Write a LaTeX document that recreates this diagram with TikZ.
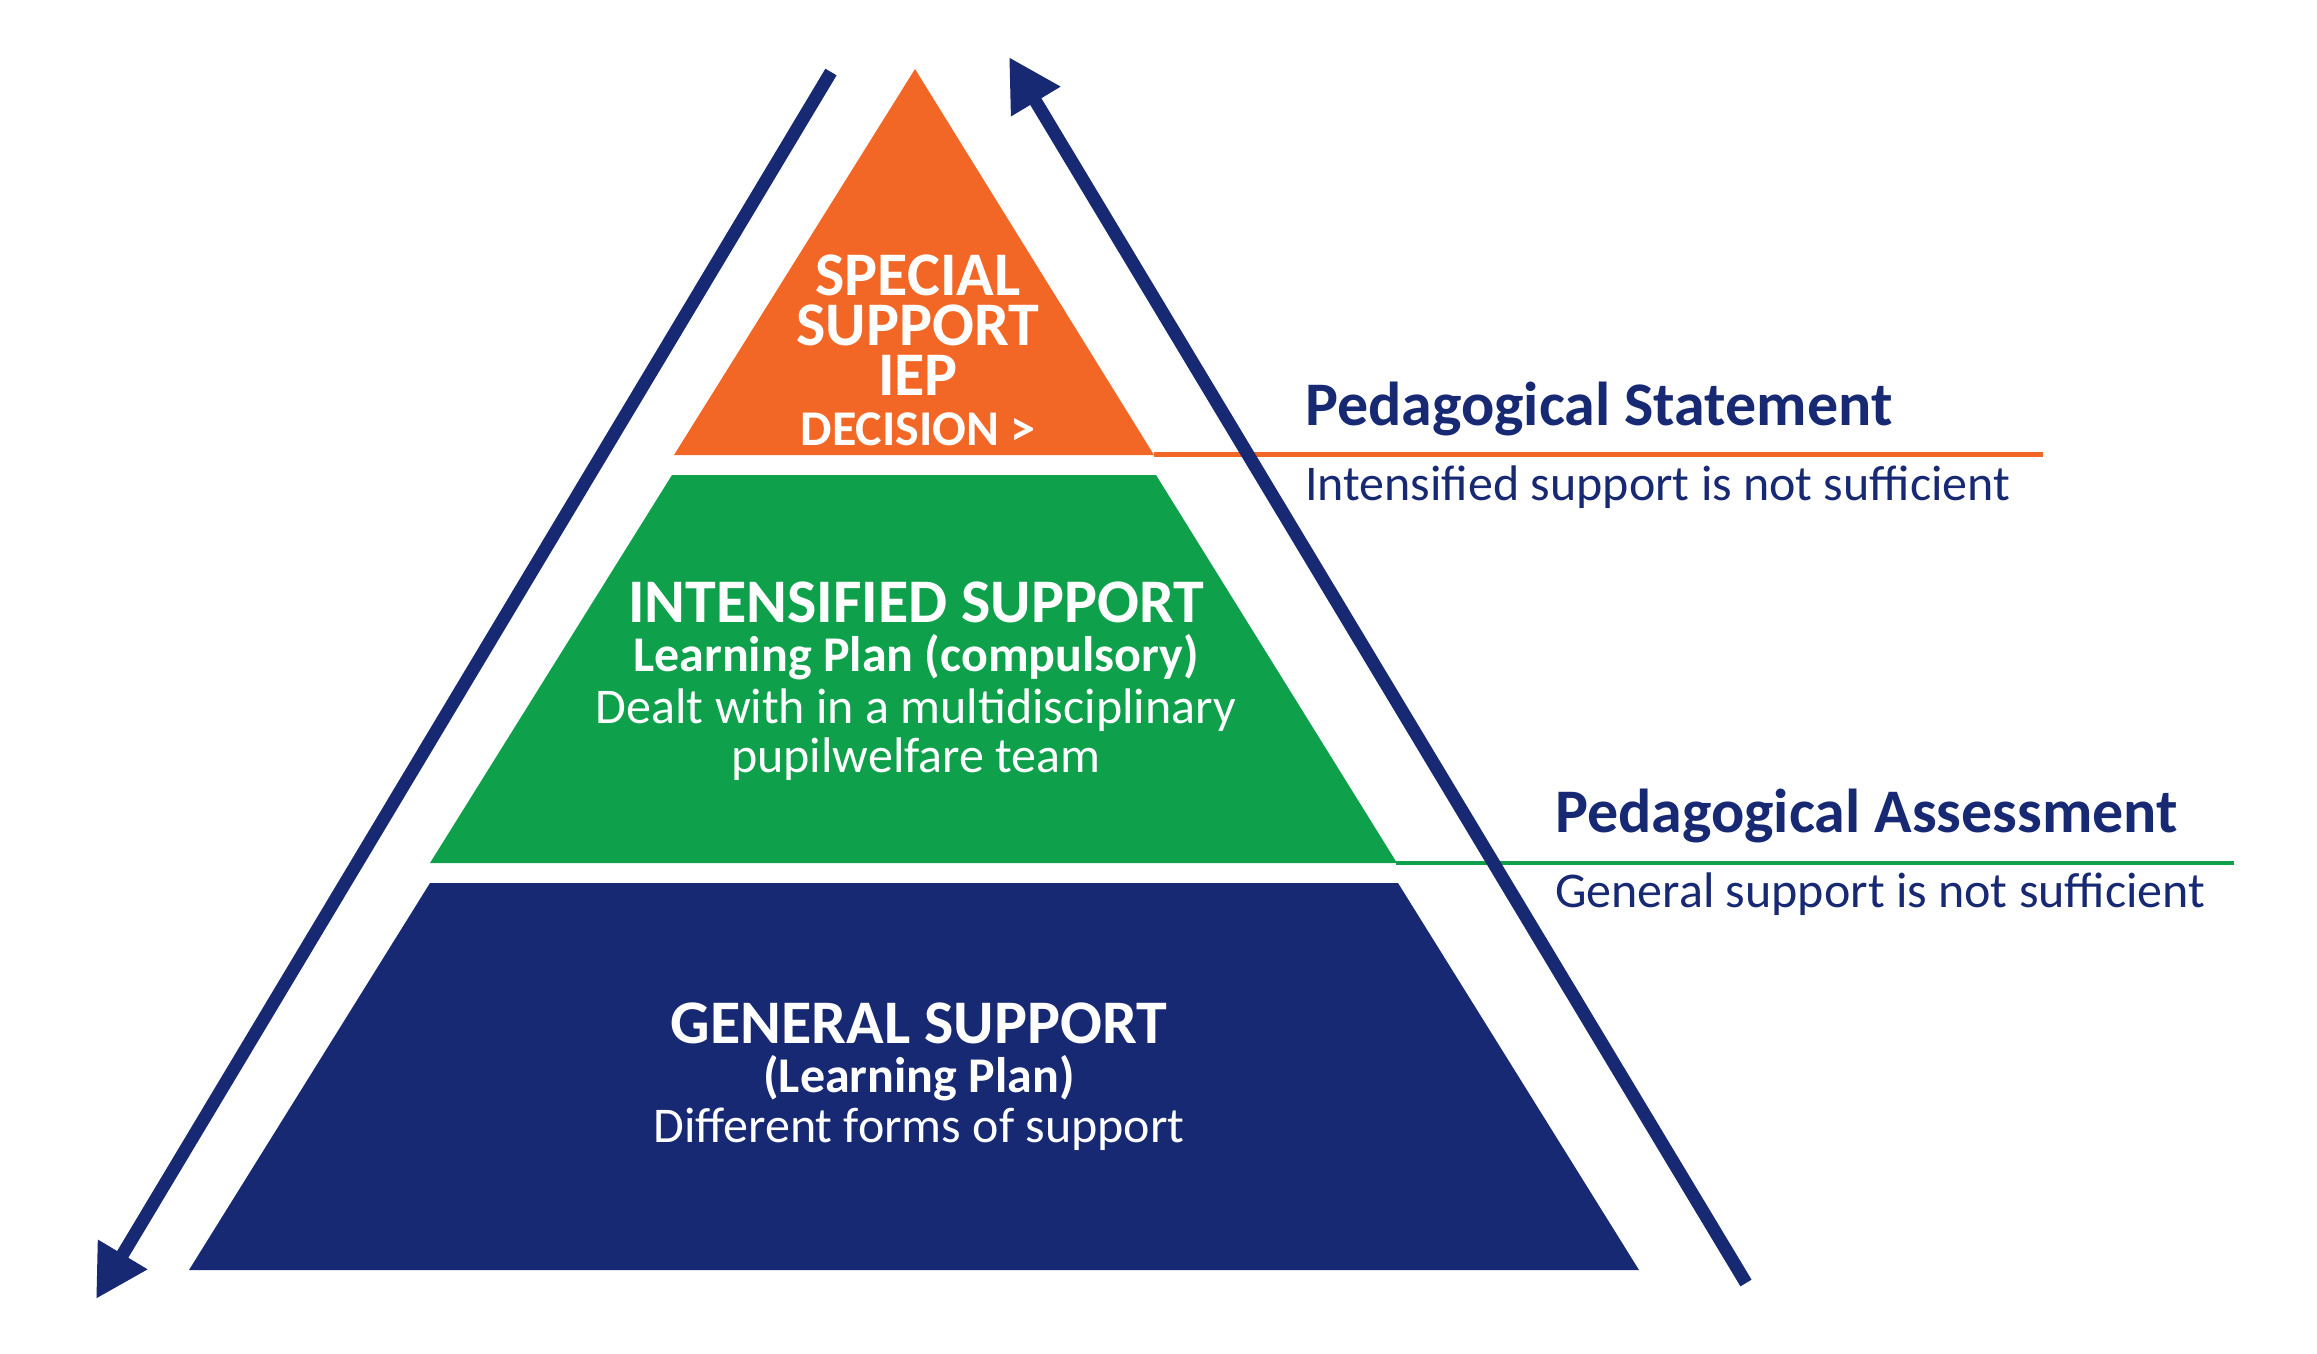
\documentclass[tikz,border=0pt]{standalone}
\usepackage{fontspec}
\setmainfont{Carlito}
\usepackage{xcolor}
\usepackage{tikz}
\usetikzlibrary{arrows.meta}
\definecolor{figN}{RGB}{24,41,115}
\definecolor{figG}{RGB}{14,160,74}
\definecolor{figO}{RGB}{242,103,37}
\tikzset{tier/.style={text=white, anchor=base, inner sep=0pt},
  hbig/.style={font=\fontsize{62}{62}\selectfont\bfseries},
  hmid/.style={font=\fontsize{50}{50}\selectfont\bfseries},
  hnote/.style={font=\fontsize{50}{50}\selectfont},
  side/.style={text=figN, anchor=base west, inner sep=0pt},
  flow/.style={figN, line width=13pt, -{Triangle[length=52pt, width=54pt]}}}

\begin{document}
\begin{tikzpicture}[x=1pt, y=-1pt]
\useasboundingbox (0,0) rectangle (2317,1353);
% the three tiers
\fill[figO] (915,69) -- (1154,455) -- (674,455) -- cycle;
\fill[figG] (672,475) -- (1156,475) -- (1397,863) -- (430,863) -- cycle;
\fill[figN] (430,883) -- (1398,883) -- (1639,1270) -- (189,1270) -- cycle;
% rules out to the side labels
\coordinate (stmtL) at (1154,454.5);
\coordinate (stmtR) at (2043,454.5);
\coordinate (assL) at (1396,862.5);
\coordinate (assR) at (2234,862.5);
\draw[figO, line width=5pt] (stmtL) -- (stmtR);
\draw[figG, line width=4pt] (assL) -- (assR);
% down and up arrows
\coordinate (dnTop) at (831,72);
\coordinate (dnEnd) at (96,1299);
\coordinate (upBot) at (1746,1283);
\coordinate (upEnd) at (1009,57);
\draw[flow] (dnTop) -- (dnEnd);
\draw[flow] (upBot) -- (upEnd);
% tier texts (base of the block = last line)
\node[tier, align=center, font=\fontsize{62}{49.7}\selectfont\bfseries] (sp) at (918,445)
  {SPECIAL\\SUPPORT\\IEP\\{\fontsize{50}{49.7}\selectfont DECISION >}};
\node[tier, hbig] (in1) at (916,622) {INTENSIFIED SUPPORT};
\node[tier, hmid] (in2) at (916,671) {Learning Plan (compulsory)};
\node[tier, hnote] (in3) at (916,723) {Dealt with in a multidisciplinary};
\node[tier, hnote] (in4) at (916,772) {pupilwelfare team};
\node[tier, hbig] (ge1) at (919,1043) {GENERAL SUPPORT};
\node[tier, hmid] (ge2) at (919,1092) {(Learning Plan)};
\node[tier, hnote] (ge3) at (919,1142) {Different forms of support};
% side labels
\node[side, hbig] (stmt) at (1305,425) {Pedagogical Statement};
\node[side, hnote] (stmtN) at (1305,500) {Intensified support is not sufficient};
\node[side, hbig] (ass) at (1555,832) {Pedagogical Assessment};
\node[side, hnote] (assN) at (1555,907) {General support is not sufficient};
\end{tikzpicture}
\end{document}
